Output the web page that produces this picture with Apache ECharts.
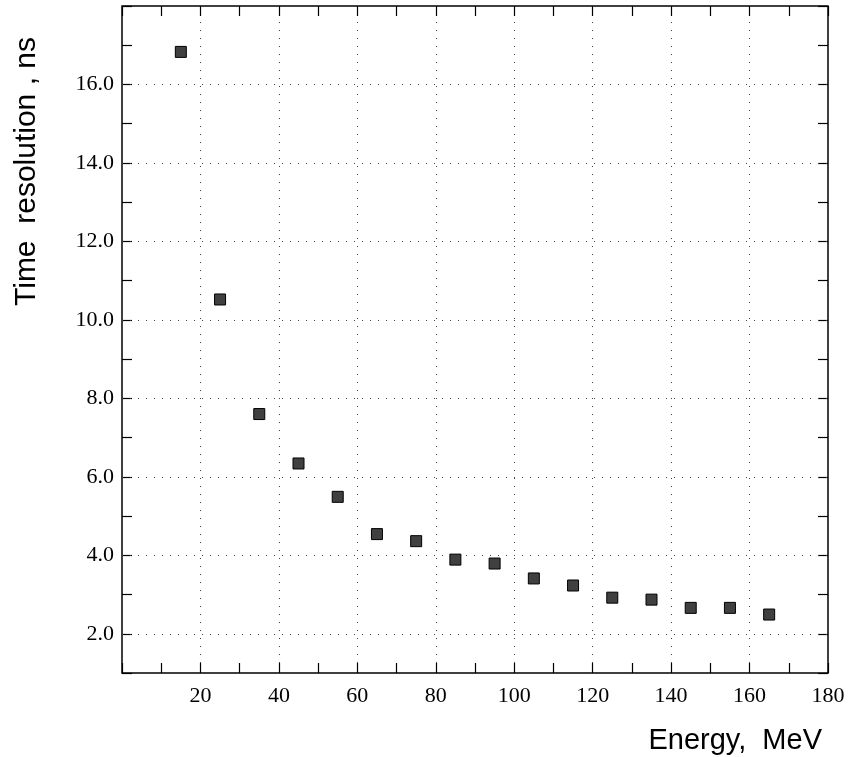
<!DOCTYPE html>
<html>
<head>
<meta charset="utf-8">
<script src="https://cdn.jsdelivr.net/npm/echarts@6/dist/echarts.min.js"></script>
<style>html,body{margin:0;padding:0;background:#fff}#c{width:852px;height:757px}</style>
</head>
<body>
<div id="c"></div>
<script>
const energies = [15, 25, 35, 45, 55, 65, 75, 85, 95, 105, 115, 125, 135, 145, 155, 165];
const resolution = [16.83, 10.52, 7.60, 6.34, 5.49, 4.54, 4.36, 3.89, 3.79, 3.41, 3.23, 2.92, 2.87, 2.66, 2.66, 2.49];
const yGridValues = [2, 4, 6, 8, 10, 12, 14, 16];
const xTitle = 'Energy,  MeV';
const yTitle = 'Time  resolution , ns';

const chart = echarts.init(document.getElementById('c'), null, {renderer: 'canvas'});
const serif = 'Liberation Serif';
const dotted = {color: '#444', width: 1, type: [1, 7]};
const tickStyle = {color: '#000', width: 1.2};
const noLine = {show: false, onZero: false};

const points = energies.map((e, i) => [e, resolution[i]]);

chart.setOption({
  animation: false,
  backgroundColor: '#fff',
  grid: {left: 122, top: 6, right: 24, bottom: 84, show: true, borderColor: '#000', borderWidth: 1.5, backgroundColor: 'transparent', containLabel: false},
  xAxis: [
    {type: 'value', position: 'bottom', min: 0, max: 180, interval: 20,
     axisLine: noLine,
     axisTick: {show: true, inside: true, length: 10, lineStyle: tickStyle},
     minorTick: {show: true, splitNumber: 2, length: 10, lineStyle: tickStyle},
     axisLabel: {fontFamily: serif, fontSize: 22, color: '#000', margin: 12,
                 formatter: v => v === 0 ? '' : String(v)},
     splitLine: {show: true, lineStyle: dotted}},
    {type: 'value', position: 'top', min: 0, max: 180, interval: 20,
     axisLine: noLine,
     axisTick: {show: true, inside: true, length: 10, lineStyle: tickStyle},
     minorTick: {show: true, splitNumber: 2, length: 10, lineStyle: tickStyle},
     axisLabel: {show: false}, splitLine: {show: false}}
  ],
  yAxis: [
    {type: 'value', position: 'left', min: 1, max: 18, interval: 1,
     axisLine: noLine,
     axisTick: {show: true, inside: true, length: 10, lineStyle: tickStyle},
     axisLabel: {fontFamily: serif, fontSize: 22, color: '#000', margin: 8,
                 formatter: v => (Math.round(v) % 2 === 0 && v < 18) ? v.toFixed(1) : ''},
     splitLine: {show: false}},
    {type: 'value', position: 'right', min: 1, max: 18, interval: 1,
     axisLine: noLine,
     axisTick: {show: true, inside: true, length: 10, lineStyle: tickStyle},
     axisLabel: {show: false}, splitLine: {show: false}}
  ],
  graphic: [
    {type: 'text', right: 30, top: 726,
     style: {text: xTitle, font: '29px "Liberation Sans"', fill: '#000', textAlign: 'right'}},
    {type: 'text', x: 12, y: 306, rotation: Math.PI / 2,
     style: {text: yTitle, font: '30px "Liberation Sans"', fill: '#000', textAlign: 'left', textVerticalAlign: 'top'}}
  ],
  series: [{
    type: 'scatter', xAxisIndex: 0, yAxisIndex: 0,
    data: points, symbol: 'rect', symbolSize: 11,
    itemStyle: {color: '#404040', borderColor: '#000', borderWidth: 1, opacity: 1},
    silent: true, z: 5,
    markLine: {silent: true, symbol: 'none', label: {show: false},
      lineStyle: dotted, animation: false,
      data: yGridValues.map(v => ({yAxis: v}))}
  }]
});
</script>
</body>
</html>
